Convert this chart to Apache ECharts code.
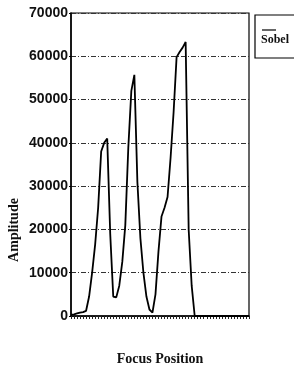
<!DOCTYPE html>
<html>
<head>
<meta charset="utf-8">
<script src="https://cdn.jsdelivr.net/npm/echarts@6/dist/echarts.min.js"></script>
<style>
html, body { margin: 0; padding: 0; background: #fff; }
#chart { width: 294px; height: 371px; }
</style>
</head>
<body>
<div id="chart"></div>
<script>
// focus positions along the x axis (no labels shown)
var positions = [];
for (var p = 1; p <= 60; p++) positions.push(p);

// Sobel amplitude per focus position
var sobel = [
  300, 400, 600, 800, 900, 1200, 4500, 10000, 16500, 25000,
  38000, 40000, 41000, 19000, 4500, 4300, 7000, 12500, 21000, 39000,
  52000, 55700, 31000, 18000, 10000, 4500, 1500, 800, 5000, 15000,
  23000, 25000, 27500, 36500, 47000, 59800, 61000, 62000, 63300, 20000,
  7000, 0, 0, 0, 0, 0, 0, 0, 0, 0,
  0, 0, 0, 0, 0, 0, 0, 0, 0, 0
];

var yTicks = [0, 10000, 20000, 30000, 40000, 50000, 60000, 70000];

var chart = echarts.init(document.getElementById('chart'));
var option = {
  animation: false,
  backgroundColor: '#fff',
  grid: {
    left: 71, right: 45, top: 13, bottom: 45,
    show: true, borderColor: '#000', borderWidth: 1.2, backgroundColor: 'transparent'
  },
  xAxis: {
    type: 'category',
    data: positions,
    boundaryGap: false,
    name: 'Focus Position',
    nameLocation: 'middle',
    nameGap: 36,
    nameTextStyle: { fontFamily: 'Liberation Serif', fontWeight: 'bold', fontSize: 14, color: '#111' },
    axisLine: { lineStyle: { color: '#000', width: 1.5 } },
    axisTick: { show: true, interval: 0, length: 3, lineStyle: { color: '#222' } },
    axisLabel: { show: false },
    splitLine: { show: false }
  },
  yAxis: {
    type: 'value',
    min: yTicks[0],
    max: yTicks[yTicks.length - 1],
    interval: 10000,
    axisLine: { show: true, lineStyle: { color: '#000', width: 1.5 } },
    axisTick: { show: true, length: 2, lineStyle: { color: '#000' } },
    axisLabel: {
      margin: 3, color: '#111', fontSize: 14, fontWeight: 'bold',
      fontFamily: 'Liberation Sans',
      formatter: function (v) { return String(v); }
    },
    splitLine: { show: true, lineStyle: { color: '#333', width: 1, type: [5, 2, 1, 2] } }
  },
  series: [{
    name: 'Sobel',
    type: 'line',
    data: sobel,
    showSymbol: false,
    lineStyle: { color: '#000', width: 1.8 }
  }],
  graphic: [
    {
      type: 'text', x: 14, y: 230, rotation: Math.PI / 2,
      style: {
        text: 'Amplitude', fontFamily: 'Liberation Serif', fontWeight: 'bold', fontSize: 14,
        fill: '#111', textAlign: 'center', textVerticalAlign: 'middle'
      }
    },
    {
      type: 'rect', shape: { x: 255, y: 15, width: 50, height: 43 },
      style: { fill: '#fff', stroke: '#000', lineWidth: 1.2 }
    },
    {
      type: 'line', shape: { x1: 262, y1: 30, x2: 276, y2: 30 },
      style: { stroke: '#000', lineWidth: 1.2 }
    },
    {
      type: 'text', x: 261, y: 40,
      style: {
        text: 'Sobel', fontFamily: 'Liberation Serif', fontWeight: 'bold', fontSize: 12,
        fill: '#111', textAlign: 'left', textVerticalAlign: 'middle'
      }
    }
  ]
};
chart.setOption(option);
</script>
</body>
</html>
